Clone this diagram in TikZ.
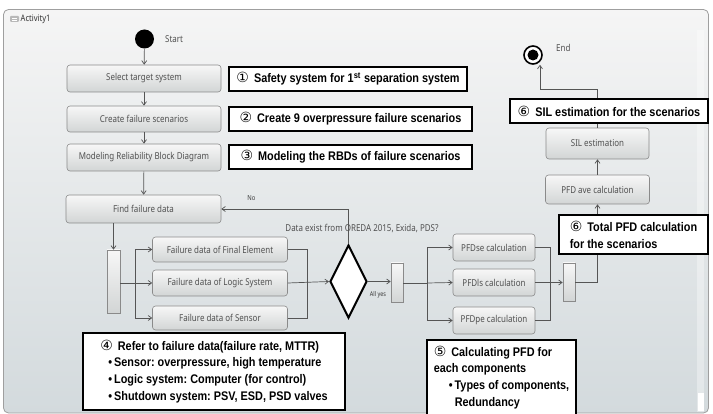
\documentclass[tikz,border=0pt]{standalone}
\usepackage{fontspec}
\setmainfont{Noto Sans}
\newfontfamily\nfont[FakeStretch=0.84]{Noto Sans}
\newfontfamily\afont[FakeStretch=0.87]{Liberation Sans}
\newfontfamily\cfont{DejaVu Sans}
\usetikzlibrary{shapes.geometric,arrows.meta}
\definecolor{edge}{HTML}{555555}
\definecolor{boxline}{HTML}{8A8A8A}
\definecolor{boxtext}{HTML}{505050}
\definecolor{bgtop}{HTML}{F5F5F5}
\definecolor{bgbot}{HTML}{D3DADD}
\definecolor{boxtop}{HTML}{F7F7F7}
\definecolor{boxbot}{HTML}{D2D5D5}
\newcommand\circnum[1]{{\cfont\mdseries\fontsize{14}{14}\selectfont #1}\hspace{2pt}}
\tikzset{
 actbox/.style={draw=boxline, rounded corners=3pt, top color=boxtop, bottom color=boxbot, text=boxtext,
   font=\nfont\fontsize{9.5}{11}\selectfont, inner sep=0pt, line width=0.6pt},
 forkbar/.style={draw=boxline, top color=boxtop, bottom color=boxbot, inner sep=0pt, line width=0.6pt},
 arr/.style={draw=edge, line width=0.7pt, -{Straight Barb[length=3.5pt,width=5pt]}},
 ln/.style={draw=edge, line width=0.7pt},
 note/.style={draw=black, line width=1.3pt, fill=white, inner sep=0pt, align=left,
   font=\afont\bfseries\frenchspacing\fontsize{12.5}{16.8}\selectfont},
 lbl/.style={text=boxtext, font=\nfont\fontsize{9.5}{11}\selectfont, inner sep=0pt},
}
\begin{document}
\begin{tikzpicture}[x=1pt,y=-1pt]
\useasboundingbox (0,0) rectangle (713,414);
\fill[white] (0,0) rectangle (713,414);
% frame
\shade[top color=bgtop, bottom color=bgbot, rounded corners=5pt] (3.5,9.5) rectangle (708.5,413);
\draw[draw=gray!75, line width=0.8pt, rounded corners=5pt] (3.5,9.5) rectangle (708.5,413);
% scrollbar
\fill[white, opacity=0.35] (697,30) rectangle (704,412);
\fill[white] (698,393) rectangle (704,411);
% activity label
\fill[gray!55, rounded corners=1pt] (10,16) rectangle (19,22);
\draw[white, line width=0.5pt] (12,18) -- (17,18) (12,20) -- (17,20);
\node[anchor=west, text=black!80, font=\nfont\fontsize{9}{10}\selectfont, inner sep=0pt] (actlbl) at (20.5,19) {Activity1};

% start / end
\node[circle, fill=black, minimum size=19pt, inner sep=0pt] (start) at (144.5,39) {};
\node[lbl, anchor=west] (starttxt) at (165,39) {Start};
\node[circle, draw=black, line width=1.6pt, fill=white, minimum size=18pt, inner sep=0pt] (endc) at (533,55) {};
\node[circle, fill=black, minimum size=11pt, inner sep=0pt] (enddot) at (endc.center) {};
\node[lbl, anchor=west] (endtxt) at (556,48) {End};

% left column
\node[actbox, minimum width=154pt, minimum height=27pt] (sel) at (144,78.5) {Select target system};
\node[actbox, minimum width=154pt, minimum height=26pt] (cre) at (144,119) {Create failure scenarios};
\node[actbox, minimum width=154pt, minimum height=27pt] (mod) at (144,157.5) {Modeling Reliability Block Diagram};
\node[actbox, minimum width=155pt, minimum height=28pt] (find) at (143.5,209) {Find failure data};

% failure data
\node[forkbar, minimum width=13pt, minimum height=63pt] (fork1) at (113.5,281.5) {};
\node[actbox, minimum width=135pt, minimum height=25pt] (fe) at (220,249.5) {Failure data of Final Element};
\node[actbox, minimum width=135pt, minimum height=26pt] (ls) at (220,283) {Failure data of Logic System};
\node[actbox, minimum width=135pt, minimum height=24pt] (se) at (220,318) {Failure data of Sensor};

% decision
\node[diamond, draw=black, line width=2pt, fill=white, minimum width=37pt, minimum height=73pt, inner sep=0pt] (dia) at (348.5,281.5) {};
\node[lbl] (qtxt) at (362,228) {Data exist from OREDA 2015, Exida, PDS?};
\node[text=black!75, font=\nfont\bfseries\fontsize{7}{8}\selectfont, inner sep=0pt] (notxt) at (251.5,198.5) {No};
\node[text=black!80, font=\nfont\fontsize{6.5}{7}\selectfont, inner sep=0pt] (yestxt) at (378,295) {All yes};

% PFD calculations
\node[forkbar, minimum width=12pt, minimum height=39pt] (fork2) at (397,282.5) {};
\node[actbox, minimum width=82pt, minimum height=27pt] (pse) at (494,247.5) {PFDse calculation};
\node[actbox, minimum width=82pt, minimum height=27pt] (pls) at (494,282.5) {PFDls calculation};
\node[actbox, minimum width=82pt, minimum height=27pt] (ppe) at (494,320.5) {PFDpe calculation};
\node[forkbar, minimum width=12pt, minimum height=38pt] (fork3) at (569,282) {};
\node[actbox, minimum width=104pt, minimum height=29pt] (pfdave) at (597.5,189.5) {PFD ave calculation};
\node[actbox, minimum width=103pt, minimum height=31pt] (sil) at (597.5,143.5) {SIL estimation};

% coordinates
\coordinate (b1) at (135,283);
\coordinate (j1) at (307,283);
\coordinate (b2) at (427,283);
\coordinate (j2) at (550,283);
\coordinate (endturn) at (540,89);

% connectors
\draw[arr] (start) -- (sel);
\draw[arr] (sel) -- (cre);
\draw[arr] (cre) -- (mod);
\draw[arr] (mod) -- (find);
\draw[arr] (find.south -| fork1.north) -- (fork1.north);
\draw[ln] (fork1.east |- b1) -- (b1);
\draw[arr] (b1) |- (fe.west);
\draw[arr] (b1) -- (ls.west);
\draw[arr] (b1) |- (se.west);
\draw[ln] (fe.east) -| (j1);
\draw[ln] (se.east) -| (j1);
\draw[arr] (ls.east) -- (dia.west);
\draw[arr] (dia.north) |- (find.east);
\draw[arr] (dia.east) -- (fork2.west |- dia.east);
\draw[ln] (fork2.east |- b2) -- (b2);
\draw[arr] (b2) |- (pse.west);
\draw[arr] (b2) -- (pls.west);
\draw[arr] (b2) |- (ppe.west);
\draw[ln] (pse.east) -| (j2);
\draw[ln] (ppe.east) -| (j2);
\draw[arr] (pls.east) -- (fork3.west |- pls.east);
\draw[arr] (fork3.east) -| (pfdave.south);
\draw[arr] (pfdave.north) -- (sil.south);
\draw[arr] (sil.north) |- (endturn) -- (endturn |- endc.south);

% annotations
\node[note, minimum width=238pt, minimum height=24pt] (n1) at (348,79) {\circnum{①} Safety system for 1\textsuperscript{st} separation system};
\node[note, minimum width=243pt, minimum height=24pt] (n2) at (350.5,119) {\circnum{②} Create 9 overpressure failure scenarios};
\node[note, minimum width=243pt, minimum height=24pt] (n3) at (350.5,157) {\circnum{③} Modeling the RBDs of failure scenarios};
\node[note, minimum width=198pt, minimum height=24pt] (n6a) at (609,111) {\circnum{⑥} SIL estimation for the scenarios};
\node[note, minimum width=149pt, minimum height=39pt] (n6b) at (633.5,234.5) {\circnum{⑥} Total PFD calculation\\for the scenarios};
\node[note, minimum width=262pt, minimum height=77pt] (n4) at (214,371.5) {\circnum{④} Refer to failure data(failure rate, MTTR)\\
\hspace*{8pt}•\,Sensor: overpressure, high temperature\\
\hspace*{8pt}•\,Logic system: Computer (for control)\\
\hspace*{8pt}•\,Shutdown system: PSV, ESD, PSD valves};
\node[note, minimum width=149pt, minimum height=75pt] (n5) at (501.5,377.5) {\circnum{⑤} Calculating PFD for\\each components\\
\hspace*{15pt}•\,Types of components,\\
\hspace*{21pt}Redundancy};
\end{tikzpicture}
\end{document}
